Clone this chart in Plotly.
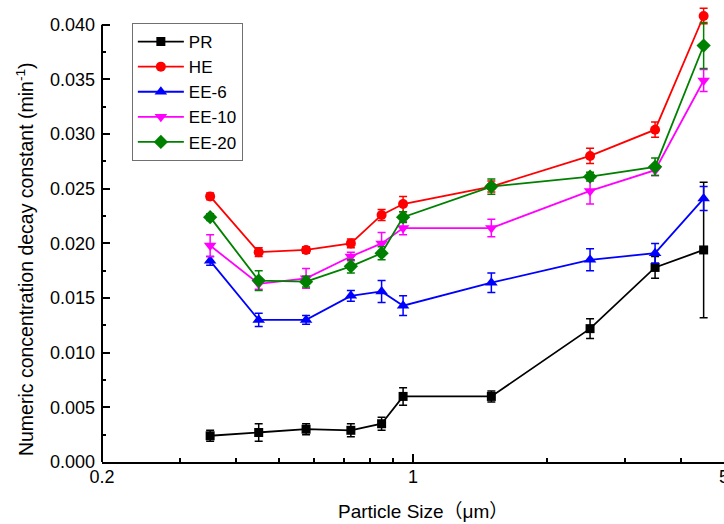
import math
import plotly.graph_objects as go

# Particle size bins (µm)
x_um = [0.35, 0.45, 0.575, 0.725, 0.85, 0.95, 1.5, 2.5, 3.5, 4.5]

# Numeric concentration decay constants (min^-1) and their errors
pr = [0.0024, 0.0027, 0.0030, 0.0029, 0.0035, 0.0060, 0.0060, 0.0122, 0.0178, 0.0194]
pr_err = [0.0005, 0.0008, 0.0005, 0.0006, 0.0006, 0.0008, 0.0005, 0.0009, 0.0010, 0.0062]
he = [0.0243, 0.0192, 0.0194, 0.0200, 0.0226, 0.0236, 0.0252, 0.0280, 0.0304, 0.0408]
he_err = [0.0003, 0.0004, 0.0003, 0.0004, 0.0005, 0.0007, 0.0005, 0.0007, 0.0007, 0.0007]
ee6 = [0.0184, 0.0130, 0.0130, 0.0152, 0.0156, 0.0143, 0.0164, 0.0185, 0.0191, 0.0241]
ee6_err = [0.0004, 0.0006, 0.0004, 0.0005, 0.0010, 0.0009, 0.0009, 0.0010, 0.0009, 0.0011]
ee10 = [0.0198, 0.0163, 0.0168, 0.0188, 0.0200, 0.0214, 0.0214, 0.0248, 0.0267, 0.0349]
ee10_err = [0.0010, 0.0005, 0.0009, 0.0004, 0.0010, 0.0006, 0.0008, 0.0012, 0.0005, 0.0010]
ee20 = [0.0224, 0.0166, 0.0165, 0.0179, 0.0191, 0.0224, 0.0252, 0.0261, 0.0270, 0.0381]
ee20_err = [0.0003, 0.0009, 0.0005, 0.0006, 0.0006, 0.0005, 0.0007, 0.0004, 0.0008, 0.0021]

series_names = ["PR", "HE", "EE-6", "EE-10", "EE-20"]
x_tick_vals = [0.2, 1, 5]
x_tick_text = ["0.2", "1", "5"]
x_minor_vals = [0.3, 0.4, 0.5, 0.6, 0.7, 0.8, 0.9, 2, 3, 4]

FONT = "Liberation Sans, Arial, Noto Sans CJK SC, sans-serif"

styles = [
    ("#000000", "square", 9),
    ("#FF0000", "circle", 10),
    ("#0000FF", "triangle-up", 11),
    ("#FF00FF", "triangle-down", 11),
    ("#008000", "diamond", 11),
]
values = [pr, he, ee6, ee10, ee20]
errors = [pr_err, he_err, ee6_err, ee10_err, ee20_err]

fig = go.Figure()
for name, (color, symbol, size), yv, ye in zip(series_names, styles, values, errors):
    fig.add_trace(go.Scatter(
        x=x_um, y=yv, name=name, mode="lines+markers",
        line=dict(color=color, width=1.8),
        marker=dict(color=color, symbol=symbol, size=size),
        error_y=dict(type="data", array=ye, visible=True,
                     color=color, thickness=1.5, width=4),
        cliponaxis=False,
    ))

fig.update_layout(
    width=724, height=524,
    margin=dict(l=102, r=0, t=4, b=62, autoexpand=False),
    paper_bgcolor="white", plot_bgcolor="white",
    font=dict(family=FONT, size=18, color="black"),
    showlegend=True,
    legend=dict(
        x=0.048, y=0.9585, xanchor="left", yanchor="top",
        bordercolor="#707070", borderwidth=1, bgcolor="white",
        font=dict(size=17), tracegroupgap=0, itemwidth=46,
    ),
    xaxis=dict(
        type="log", automargin=False,
        range=[math.log10(0.2), math.log10(5)],
        tickvals=x_tick_vals, ticktext=x_tick_text,
        ticks="inside", ticklen=8, tickwidth=1.5, tickcolor="black",
        showline=True, linecolor="black", linewidth=2,
        showgrid=False, zeroline=False,
        ticklabeloverflow="allow", ticklabelstandoff=-3,
        minor=dict(ticks="inside", ticklen=4, tickwidth=1.5,
                   tickcolor="black", tickvals=x_minor_vals, showgrid=False),
    ),
    yaxis=dict(
        automargin=False,
        range=[0, 0.0419],
        tick0=0, dtick=0.005, tickformat=".3f",
        ticks="inside", ticklen=8, tickwidth=1.5, tickcolor="black",
        showline=False, showgrid=False, zeroline=False,
        ticklabelstandoff=6,
        minor=dict(ticks="inside", ticklen=4, tickwidth=1.5,
                   tickcolor="black", dtick=0.0025, showgrid=False),
    ),
    shapes=[dict(type="line", xref="paper", yref="y",
                 x0=0, x1=0, y0=0, y1=0.040,
                 line=dict(color="black", width=2))],
    annotations=[
        dict(text="Numeric concentration decay constant (min<sup>-1</sup>)",
             xref="paper", yref="paper", x=-0.1238, y=0.443,
             xanchor="center", yanchor="middle", textangle=-90,
             showarrow=False, font=dict(size=19.5)),
        dict(text="Particle Size（μm）",
             xref="paper", yref="paper", x=0.516, y=-0.109,
             xanchor="center", yanchor="middle",
             showarrow=False, font=dict(size=19)),
    ],
)

fig.write_html("out.html")
